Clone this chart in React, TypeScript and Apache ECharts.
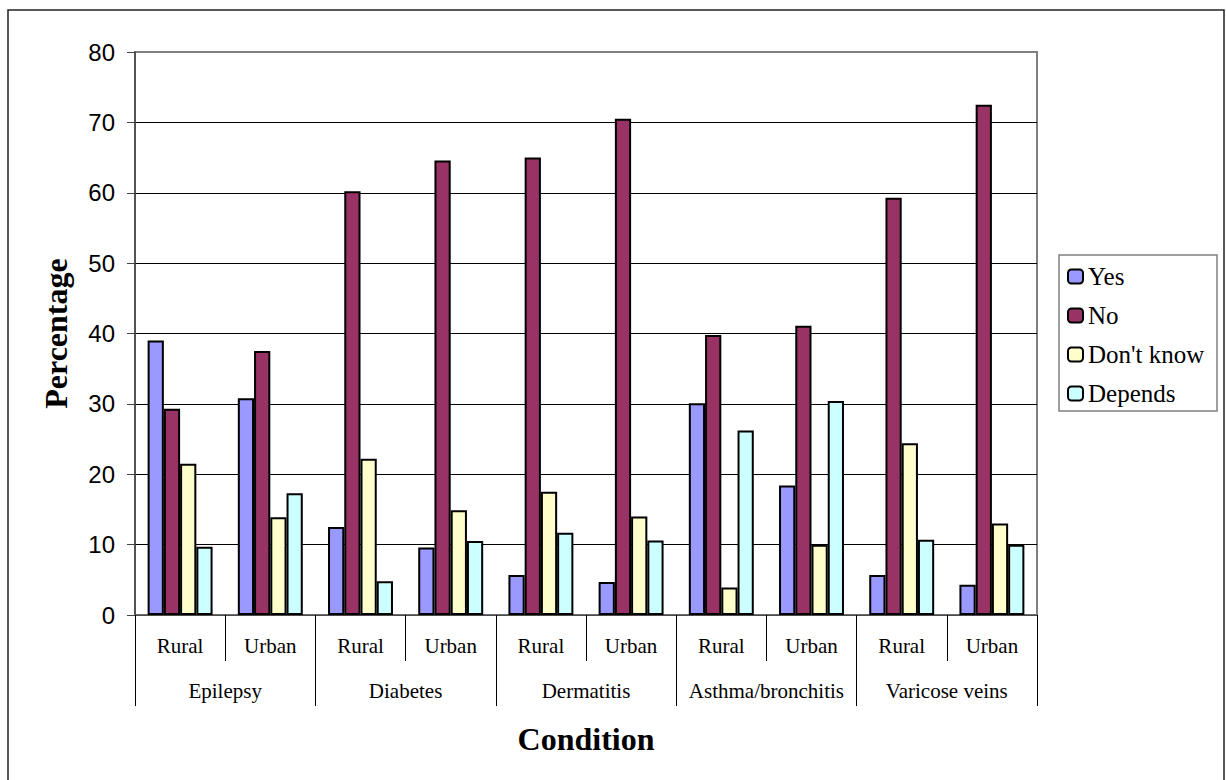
import React, { useEffect, useRef } from "react";
import * as echarts from "echarts";

// Two-level category axis: area type inside each condition
const areaLabels = [
  "Rural", "Urban",
  "Rural", "Urban",
  "Rural", "Urban",
  "Rural", "Urban",
  "Rural", "Urban",
];
const conditions = ["Epilepsy", "Diabetes", "Dermatitis", "Asthma/bronchitis", "Varicose veins"];

// Percentage of respondents per answer
const yesValues = [39.0, 30.8, 12.5, 9.6, 5.7, 4.7, 30.1, 18.4, 5.7, 4.3];
const noValues = [29.3, 37.5, 60.2, 64.6, 65.0, 70.5, 39.8, 41.1, 59.3, 72.5];
const dontKnowValues = [21.5, 13.9, 22.2, 14.9, 17.5, 14.0, 3.9, 10.0, 24.4, 13.0];
const dependsValues = [9.7, 17.3, 4.8, 10.5, 11.7, 10.6, 26.2, 30.4, 10.7, 10.0];

const seriesNames = ["Yes", "No", "Don't know", "Depends"];
const seriesColors = ["#9999FF", "#993366", "#FFFFCC", "#CCFFFF"];

const yTicks = [0, 10, 20, 30, 40, 50, 60, 70, 80];

const SERIF = "'Liberation Serif', 'Times New Roman', serif";
const SANS = "'Liberation Sans', Arial, sans-serif";

export default function App() {
  const ref = useRef<HTMLDivElement>(null);

  useEffect(() => {
    if (!ref.current) return;
    const chart = echarts.init(ref.current, null, { renderer: "svg" });

    const valueSets = [yesValues, noValues, dontKnowValues, dependsValues];
    const series = valueSets.map((vals, i) => ({
      name: seriesNames[i],
      type: "bar" as const,
      xAxisIndex: 0,
      yAxisIndex: 0,
      data: vals,
      barGap: "0%",
      barCategoryGap: "28%",
      itemStyle: {
        color: seriesColors[i],
        borderColor: "#000",
        borderWidth: 2,
      },
      emphasis: { disabled: true },
    }));

    // Gridlines black, top one doubles as the grey plot border
    const splitColors = yTicks.map((t, i) => (i === yTicks.length - 1 ? "#808080" : "#000"));

    chart.setOption({
      animation: false,
      backgroundColor: "#fff",
      grid: {
        left: 135,
        right: 189,
        top: 52,
        bottom: 165,
        show: true,
        borderColor: "#808080",
        borderWidth: 2,
        backgroundColor: "transparent",
      },
      legend: {
        orient: "vertical",
        left: 1062,
        top: 259,
        itemWidth: 15,
        itemHeight: 14,
        itemGap: 14,
        data: seriesNames,
        textStyle: { fontFamily: SERIF, fontSize: 25, color: "#000" },
        itemStyle: { borderColor: "#000", borderWidth: 2 },
        selectedMode: false,
      },
      xAxis: [
        {
          type: "category",
          data: areaLabels,
          position: "bottom",
          name: "Condition",
          nameLocation: "middle",
          nameGap: 108,
          nameTextStyle: { fontFamily: SERIF, fontSize: 32, fontWeight: "bold", color: "#000" },
          axisLine: { show: true, lineStyle: { color: "#666", width: 1.5 } },
          axisTick: { show: true, length: 46, interval: 0, lineStyle: { color: "#000", width: 1 } },
          axisLabel: {
            interval: 0,
            margin: 20,
            fontFamily: SERIF,
            fontSize: 21,
            color: "#000",
          },
          splitLine: { show: false },
        },
        {
          type: "category",
          data: conditions,
          position: "bottom",
          axisLine: { show: false },
          axisTick: { show: true, length: 91, interval: 0, lineStyle: { color: "#000", width: 1 } },
          axisLabel: {
            interval: 0,
            margin: 65,
            fontFamily: SERIF,
            fontSize: 21,
            color: "#000",
          },
          splitLine: { show: false },
        },
      ],
      yAxis: {
        type: "value",
        min: 0,
        max: 80,
        interval: 10,
        name: "Percentage",
        nameLocation: "middle",
        nameGap: 63,
        nameRotate: 90,
        nameTextStyle: { fontFamily: SERIF, fontSize: 32, fontWeight: "bold", color: "#000" },
        axisLine: { show: true, lineStyle: { color: "#444", width: 1.5 } },
        axisTick: { show: true, length: 8, lineStyle: { color: "#444", width: 1 } },
        axisLabel: { margin: 20, fontFamily: SANS, fontSize: 24, color: "#000" },
        splitLine: { show: true, lineStyle: { color: splitColors, width: 1 } },
      },
      graphic: [
        {
          type: "rect",
          shape: { x: 8, y: 10, width: 1216, height: 800 },
          style: { fill: "none", stroke: "#222", lineWidth: 1.5 },
          silent: true,
        },
        {
          type: "rect",
          shape: { x: 1059, y: 255, width: 158, height: 156 },
          style: { fill: "none", stroke: "#808080", lineWidth: 1.5 },
          silent: true,
        },
      ],
      series,
    });

    return () => chart.dispose();
  }, []);

  return (
    <div
      ref={ref}
      style={{ position: "absolute", left: 0, top: 0, width: 1226, height: 780 }}
    />
  );
}
